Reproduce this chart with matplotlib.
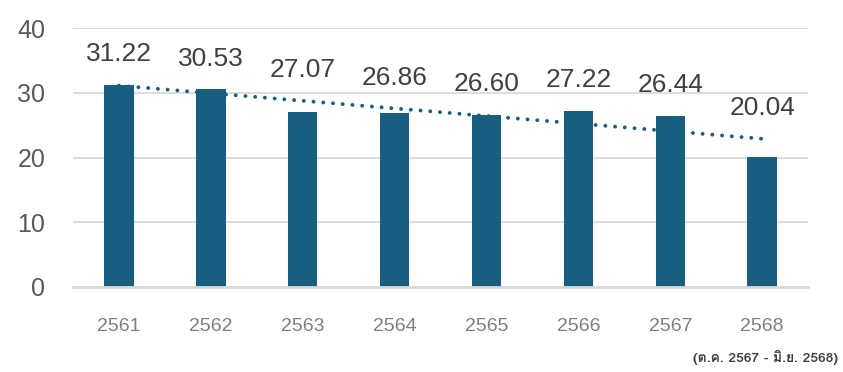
import matplotlib
matplotlib.use("Agg")
import matplotlib.pyplot as plt
from matplotlib import font_manager
from matplotlib.ft2font import FT2Font
import numpy as np

years = ["2561", "2562", "2563", "2564", "2565", "2566", "2567", "2568"]
values = [31.22, 30.53, 27.07, 26.86, 26.60, 27.22, 26.44, 20.04]
note = "(ต.ค. 2567 - มิ.ย. 2568)"

bar_color = "#175e80"
grid_color = "#d9d9d9"


def find_thai_font():
    # look for any installed font that has Thai glyphs
    for f in font_manager.fontManager.ttflist:
        try:
            if 0x0E15 in FT2Font(f.fname).get_charmap():
                return f.name
        except Exception:
            continue
    return None


thai = find_thai_font()
plt.rcParams["font.family"] = ["Liberation Sans", "DejaVu Sans"]

fig = plt.figure(figsize=(8.43, 3.72), dpi=100)
ax = fig.add_axes([0.0866, 0.2285, 0.872, 0.6962])

x = np.arange(len(years))
ax.bar(x, values, width=0.32, color=bar_color, zorder=2)

# linear trend line
k, b = np.polyfit(x, values, 1)
trend = k * x + b
ax.plot(x, trend, color=bar_color, lw=2.8, linestyle=(0, (0.01, 2.5)),
        dash_capstyle="round", zorder=3)

# value labels, lifted above the trend line where needed
for xi, v, t in zip(x, values, trend):
    ax.annotate(f"{v:.2f}", (xi, max(v, t)), xytext=(0, 22),
                textcoords="offset points", ha="center", va="center",
                fontsize=19, color="#404040")

ax.set_xlim(-0.5, 7.5)
ax.set_ylim(0, 40)
ax.set_yticks([0, 10, 20, 30, 40])
ax.set_xticks(x)
ax.set_xticklabels(years)
ax.yaxis.grid(True, color=grid_color, lw=1.3, zorder=0)
ax.set_axisbelow(True)
for s in ["top", "right", "left"]:
    ax.spines[s].set_visible(False)
ax.spines["bottom"].set_color(grid_color)
ax.spines["bottom"].set_linewidth(2)
ax.tick_params(axis="y", length=0, pad=20, labelsize=18, labelcolor="#595959")
ax.tick_params(axis="x", length=0, pad=22, labelsize=14, labelcolor="#7f7f7f")

fam = [thai, "DejaVu Sans"] if thai else ["DejaVu Sans"]
fig.text(0.994, 0.04, note, ha="right", va="center", fontsize=10,
         fontweight="bold", color="#404040", family=fam)

plt.savefig("out.png", dpi=100)
plt.close(fig)
